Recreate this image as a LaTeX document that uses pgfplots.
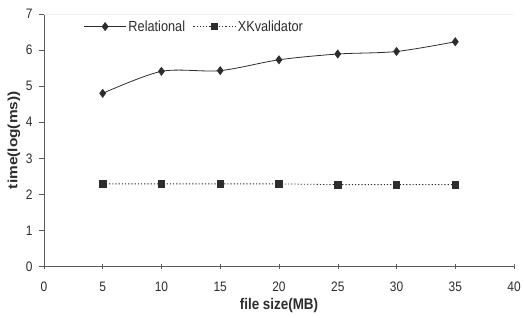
\documentclass[border=0pt]{standalone}
\usepackage{fontspec}
\setmainfont{Liberation Sans}
\usepackage{graphicx}
\usepackage{pgfplots}
\pgfplotsset{compat=1.18}
\definecolor{ink}{RGB}{45,45,45}
\begin{document}
\begin{tikzpicture}
\begin{axis}[
  name=ax,
  scale only axis,
  width=471bp, height=253bp,
  xmin=0, xmax=40, ymin=0, ymax=7,
  xtick={0,5,...,40}, ytick={0,1,...,7},
  axis x line*=bottom, axis y line*=left,
  axis line style={draw=gray!70!black, -},
  tick style={draw=gray!70!black, thin},
  major tick length=5bp,
  xtick align=center, ytick align=outside,
  xticklabel style={font=\fontsize{12}{13}\selectfont, text=ink, anchor=center},
  xticklabel={\raisebox{0pt}[0pt][0pt]{\scalebox{1}[1.15]{\pgfmathprintnumber{\tick}}}},
  x tick label style={yshift=-22.5bp},
  yticklabel style={font=\fontsize{12}{13}\selectfont, text=ink, xshift=-3bp},
  yticklabel={\scalebox{1}[1.15]{\pgfmathprintnumber{\tick}}},
  /pgf/number format/assume math mode=true,
  legend style={draw=none, fill=none, at={(axis description cs:0.078,0.95)}, anchor=west,
    legend columns=2, font=\fontsize{12.8}{14}\selectfont, text=ink,
    /tikz/every even column/.append style={column sep=6bp},
    nodes={inner xsep=2bp}},
  legend cell align=left,
  legend image code/.code={\draw[#1] (0bp,0bp) -- (42bp,0bp); \draw[#1,solid,mark repeat=1] plot coordinates {(21bp,0bp)};},
]
\draw[gray!10] (rel axis cs:0,1) -- (rel axis cs:1,1) -- (rel axis cs:1,0);
\addplot[ink, line width=0.8bp, smooth, mark=diamond*, mark size=3.9bp, mark options={solid, fill=ink}]
  coordinates {(5,4.80) (10,5.41) (15,5.43) (20,5.73) (25,5.89) (30,5.96) (35,6.23)};
\addlegendentry{\scalebox{1}[1.15]{Relational}}
\addplot[ink, line width=0.8bp, dash pattern=on 1.2bp off 2bp, mark=square*, mark size=3.3bp, mark options={solid, fill=ink}]
  coordinates {(5,2.29) (10,2.29) (15,2.29) (20,2.29) (25,2.27) (30,2.27) (35,2.27)};
\addlegendentry{\scalebox{1}[1.15]{XKvalidator}}
\end{axis}
\node[font=\fontsize{13.5}{14}\selectfont\bfseries, text=ink, anchor=center] at ([yshift=-39.5bp]ax.south) {\scalebox{1}[1.15]{file size(MB)}};
\node[font=\fontsize{13.5}{14}\selectfont\bfseries, text=ink, anchor=center, rotate=90] at ([xshift=-30bp]ax.west) {\scalebox{1.15}[1]{time(log(ms))}};
\path ([shift={(-44bp,-51bp)}]ax.south west) rectangle ([shift={(9bp,14bp)}]ax.north east);
\end{tikzpicture}
\end{document}
